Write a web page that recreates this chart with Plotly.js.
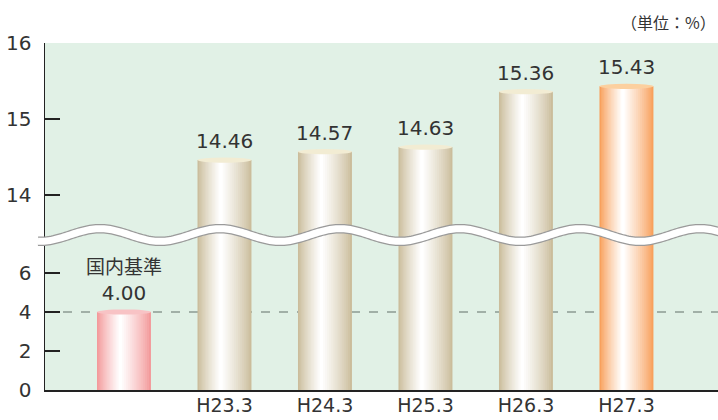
<!DOCTYPE html>
<html><head><meta charset="utf-8">
<script src="https://cdn.plot.ly/plotly-3.0.1.min.js"></script>
<style>html,body{margin:0;padding:0;background:#fff}#chart{width:718px;height:420px}</style>
</head><body><div id="chart"></div>
<script>
// ---- data ----
const categories = ['国内基準','H23.3','H24.3','H25.3','H26.3','H27.3'];
const values = [4.00, 14.46, 14.57, 14.63, 15.36, 15.43];
const valueLabels = ['<span style="font-size:19px">国内基準</span><br>4.00','14.46','14.57','14.63','15.36','15.43'];
const xTickValues = ['H23.3','H24.3','H25.3','H26.3','H27.3'];
const xTickLabels = ['H23.3','H24.3','H25.3','H26.3','H27.3'];
const lowerTicks = [0, 2, 4, 6];
const upperTicks = [14, 15, 16];
const referenceLine = 4;
const unitLabel = '（単位：%）';

// ---- style ----
const edgeColors = ['#f39a9b','#cbbd9c','#cbbd9c','#cbbd9c','#cbbd9c','#f8a05c'];
const topColors  = ['#f8c3c5','#f2ecd3','#f2ecd3','#f2ecd3','#f2ecd3','#fcd09f'];
const BG = '#e1f1e6';
const TXT = '#333333';
const NUMFONT = 'DejaVu Sans, Noto Sans CJK JP, sans-serif';
const W = 0.537;       // bar width in category units
const N = 16;          // shading layers
const SHIFT = 0.035;   // highlight shift to the left

// page geometry (pixels)
const ML = 45, MT = 43, MB = 30, PW = 718 - ML, PH = 420 - MT - MB;
const breakPx = 240;                      // join between the two y-axes
const lowerPxPerUnit = 19.5, upperPxPerUnit = 76;
const split = (420 - MB - breakPx) / PH;
const lowerRange = [0, (420 - MB - breakPx) / lowerPxPerUnit];
const upperRange = [16 - (breakPx - MT) / upperPxPerUnit, 16];

function hex2rgb(h){ h=h.replace('#',''); return [0,2,4].map(i=>parseInt(h.substr(i,2),16)); }
function mix(h, t){ const c=hex2rgb(h); return 'rgb('+c.map(v=>Math.round(v+(255-v)*t)).join(',')+')'; }

const traces = [];
for (let k = 0; k < N; k++) {
  const f = 1 - k / N;
  const t = Math.pow(k / (N - 1), 0.85);
  const w = W * f;
  const off = -w / 2 - SHIFT * (k / (N - 1));
  const colors = edgeColors.map(c => mix(c, t));
  ['y','y2'].forEach(ax => {
    traces.push({
      type: 'bar', x: categories, y: values, yaxis: ax, xaxis: 'x',
      width: w, offset: off,
      marker: { color: colors, line: { width: 0 } },
      hoverinfo: 'skip', showlegend: false
    });
  });
}

const shapes = [];
// reference dashed line
shapes.push({ type:'line', xref:'paper', x0:0, x1:1, yref:'y', y0:referenceLine, y1:referenceLine,
  line:{ color:'#8c9a92', width:1.5, dash:'dash' }, layer:'below' });
// cylinder tops
values.forEach((v, i) => {
  const lower = v <= lowerRange[1];
  const h = 2.6 / (lower ? lowerPxPerUnit : upperPxPerUnit);
  shapes.push({ type:'circle', xref:'x', yref: lower ? 'y' : 'y2',
    x0: i - W/2, x1: i + W/2, y0: v - h, y1: v + h,
    fillcolor: topColors[i], line:{ width:0 }, layer:'above' });
});
// wavy break band
function wavePath(){
  let d = '';
  for (let px = 38; px <= 724; px += 2) {
    const py = 235 - 6.3 * Math.cos(2 * Math.PI * (px - 100) / 120);
    const xp = (px - ML) / PW, yp = (420 - MB - py) / PH;
    d += (d ? 'L' : 'M') + xp.toFixed(5) + ',' + yp.toFixed(5);
  }
  return d;
}
const wp = wavePath();
shapes.push({ type:'path', xref:'paper', yref:'paper', path: wp, line:{ color:'#9a9a9a', width:9.5 }, layer:'above' });
shapes.push({ type:'path', xref:'paper', yref:'paper', path: wp, line:{ color:'#ffffff', width:7 }, layer:'above' });

const annotations = values.map((v, i) => ({
  xref:'x', x: i, yref: v <= lowerRange[1] ? 'y' : 'y2', y: v,
  text: valueLabels[i], showarrow:false, yanchor:'bottom', yshift: 5,
  font:{ family: NUMFONT, size: 20, color: TXT }
}));
annotations.push({ xref:'paper', yref:'paper', x: 1.0, xanchor:'right', y: (420 - MB - 22) / PH, yanchor:'middle',
  text: unitLabel, showarrow:false, font:{ family:'Noto Sans CJK JP, sans-serif', size:16, color: TXT } });

const yCommon = {
  showgrid:false, zeroline:false, showline:true, linecolor:'#222', linewidth:1.5,
  ticks:'inside', ticklen:15, tickwidth:1.5, tickcolor:'#222',
  tickfont:{ family: NUMFONT, size: 20, color: TXT }, ticklabelstandoff: 8, fixedrange:true
};

const layout = {
  width: 718, height: 420,
  margin:{ l: ML, r: 0, t: MT, b: MB },
  paper_bgcolor:'#ffffff', plot_bgcolor: BG,
  barmode:'overlay', showlegend:false,
  xaxis:{ type:'category', range:[-0.786, 5.911], showgrid:false, zeroline:false,
    showline:true, linecolor:'#222', linewidth:1.5, ticks:'',
    tickvals: xTickValues, ticktext: xTickLabels,
    tickfont:{ family: NUMFONT, size: 19, color: TXT }, ticklabelstandoff: -2, anchor:'y', fixedrange:true },
  yaxis: Object.assign({}, yCommon, { domain:[0, split], range: lowerRange, tickvals: lowerTicks }),
  yaxis2: Object.assign({}, yCommon, { domain:[split, 1], range: upperRange, tickvals: upperTicks, anchor:'x' }),
  shapes, annotations
};

Plotly.newPlot('chart', traces, layout, { staticPlot:true, displayModeBar:false });
</script></body></html>
